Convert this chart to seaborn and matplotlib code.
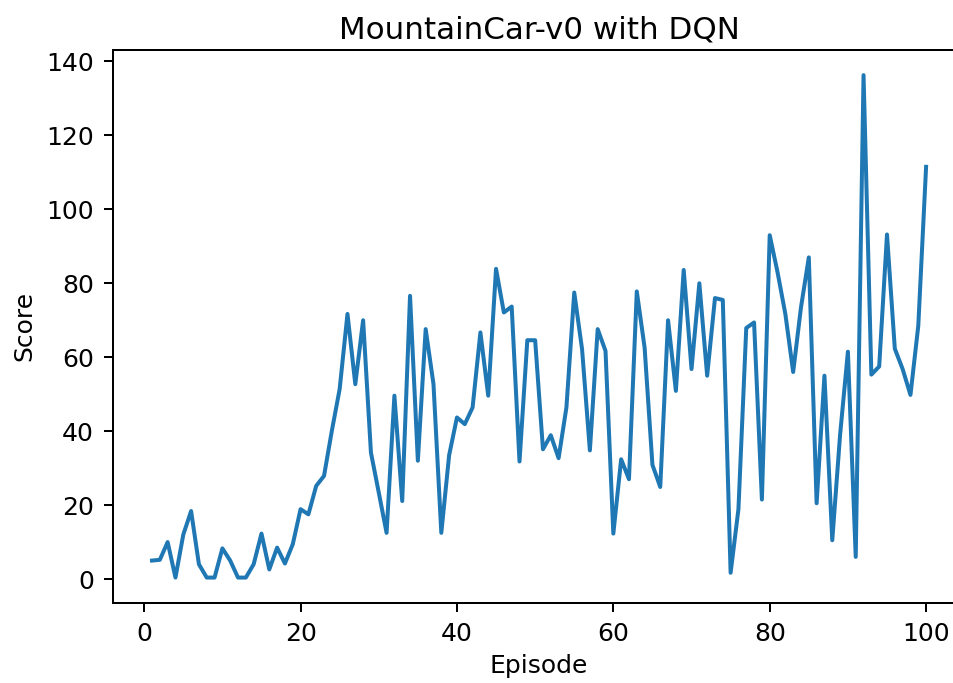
import matplotlib
matplotlib.use("Agg")
import matplotlib.pyplot as plt
import seaborn as sns
import pandas as pd

episodes = list(range(1, 101))
scores = [
    5.0, 5.2, 10.0, 0.4, 12.0, 18.4, 4.0, 0.4, 0.4, 8.3,
    5.0, 0.4, 0.4, 4.0, 12.3, 2.6, 8.5, 4.2, 9.4, 18.9,
    17.5, 25.2, 27.9, 40.1, 51.4, 71.7, 52.7, 70.0, 34.2, 23.4,
    12.5, 49.6, 21.1, 76.6, 32.0, 67.6, 52.7, 12.5, 33.5, 43.7,
    41.9, 46.4, 66.7, 49.6, 83.9, 72.1, 73.7, 31.8, 64.6, 64.6,
    35.1, 38.9, 32.7, 46.4, 77.5, 62.2, 34.8, 67.6, 61.7, 12.3,
    32.4, 27.0, 77.8, 62.6, 30.9, 24.9, 70.0, 50.9, 83.6, 56.8,
    80.0, 55.0, 76.0, 75.5, 1.7, 18.9, 67.9, 69.4, 21.5, 93.0,
    83.0, 71.7, 56.0, 73.5, 87.0, 20.5, 55.0, 10.5, 39.0, 61.5,
    6.0, 136.3, 55.3, 57.5, 93.2, 62.3, 56.8, 49.8, 68.5, 111.5,
]
title = "MountainCar-v0 with DQN"
x_label = "Episode"
y_label = "Score"

df = pd.DataFrame({"Episode": episodes, "Score": scores})

fig = plt.figure(figsize=(953 / 144, 683 / 144), dpi=144)
ax = fig.add_axes([113.3 / 953, 80.3 / 683, 851.5 / 953, 552.7 / 683])
sns.lineplot(data=df, x="Episode", y="Score", ax=ax, color="#1f77b4", linewidth=2.0)
ax.set_title(title, fontsize=15.5, pad=6)
ax.set_xlabel(x_label, fontsize=12.5, labelpad=4)
ax.set_ylabel(y_label, fontsize=12.5, labelpad=5)
ax.tick_params(labelsize=12.5, length=4.6, width=1.0, pad=5)
for s in ax.spines.values():
    s.set_linewidth(1.0)

fig.savefig("out.png", dpi=144)
